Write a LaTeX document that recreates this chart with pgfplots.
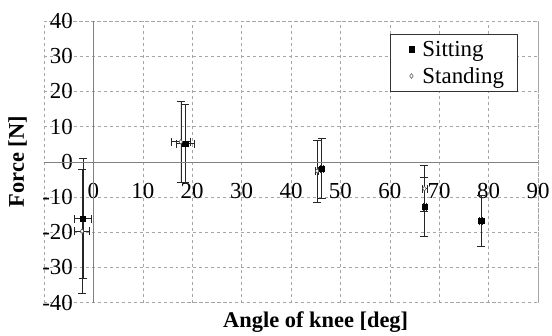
\documentclass[border=0pt]{standalone}
\usepackage{pgfplots}
\pgfplotsset{compat=1.18}
\usepackage{fontspec}
\setmainfont{Liberation Serif}
\begin{document}
\begin{tikzpicture}
\begin{axis}[
  scale only axis,
  width=494bp, height=281.7bp,
  xmin=-10, xmax=90, ymin=-40, ymax=40,
  axis line style={gray!70, dashed, line width=0.5pt},
  xtick={0,10,...,90},
  ytick={-40,-30,...,40},
  yticklabels={-40,-30,-20,-10,0,10,20,30,40},
  xticklabels={0,10,20,30,40,50,60,70,80,90},
  major tick length=0pt,
  tick style={draw=none},
  grid=major,
  major grid style={gray!70, dashed, line width=0.5pt},
  tick label style={font=\fontsize{23}{27}\selectfont},
  yticklabel style={anchor=east, inner sep=0pt, xshift=29bp},
  xticklabel style={anchor=north, inner sep=0pt, yshift=119.5bp},
  xlabel={Angle of knee [deg]},
  ylabel={Force [N]},
  every axis x label/.style={at={(axis cs:45,-40)}, anchor=north, yshift=-5bp,
    font=\fontsize{22.5}{26}\selectfont\bfseries},
  every axis y label/.style={at={([xshift=-17bp]rel axis cs:0,0.5)}, rotate=90, anchor=south, inner sep=0pt,
    font=\fontsize{22.5}{26}\selectfont\bfseries},
  clip=false,
  legend style={at={(rel axis cs:0.958,0.954)}, anchor=north east, draw=black!80, line width=0.6pt,
    font=\fontsize{23}{27}\selectfont, inner xsep=12bp, inner ysep=2bp, row sep=0bp,
    nodes={inner xsep=1bp, inner ysep=4.8bp}},
  legend cell align=left,
  legend image code/.code={
    \path[draw=none, fill=none] (0bp,-1bp) -- (19bp,-1bp);
    \draw[#1] plot coordinates {(9bp,0bp)};
  },
  before end axis/.code={
    \draw[gray, solid, line width=0.6pt] (axis cs:0,-40) -- (axis cs:0,40);
    \draw[gray, solid, line width=0.6pt] (axis cs:-10,0) -- (axis cs:90,0);
  },
  after end axis/.code={
    \path ([xshift=-44bp, yshift=-28.3bp]rel axis cs:0,0) rectangle ([xshift=14bp, yshift=21bp]rel axis cs:1,1);
  },
]
\addlegendimage{only marks, mark=square*, mark size=2.6bp, black}
\addlegendentry{Sitting}
\addlegendimage{only marks, mark=diamond*, mark size=2.4bp, black!70, fill=white, mark options={line width=0.5pt}}
\addlegendentry{Standing}
\addplot[forget plot, only marks, mark=square*, mark size=2.6bp, black,
  error bars/.cd, x dir=both, x explicit, y dir=both, y explicit,
  error bar style={black!85, line width=0.6pt},
  error mark options={rotate=90, mark size=4bp, black!85, line width=0.6pt}]
  table[x=x, y=y, x error=ex, y error=ey] {
x y ex ey
-2.1 -16.1 1.7 17.0
18.6 5.2 1.8 11.1
46.2 -1.9 0.3 8.5
67.0 -12.7 0.3 8.4
78.5 -16.8 0.3 7.2
};
\addplot[forget plot, only marks, mark=diamond*, mark size=2.4bp, black!70, fill=white, mark options={line width=0.5pt},
  error bars/.cd, x dir=both, x explicit, y dir=both, y explicit,
  error bar style={black!85, line width=0.6pt},
  error mark options={rotate=90, mark size=4bp, black!85, line width=0.6pt}]
  table[x=x, y=y, x error=ex, y error=ey] {
x y ex ey
-2.3 -19.7 1.5 17.5
17.7 5.7 2.0 11.6
45.3 -2.6 0.3 8.8
67.0 -7.6 0.5 6.5
};
\end{axis}
\end{tikzpicture}
\end{document}
